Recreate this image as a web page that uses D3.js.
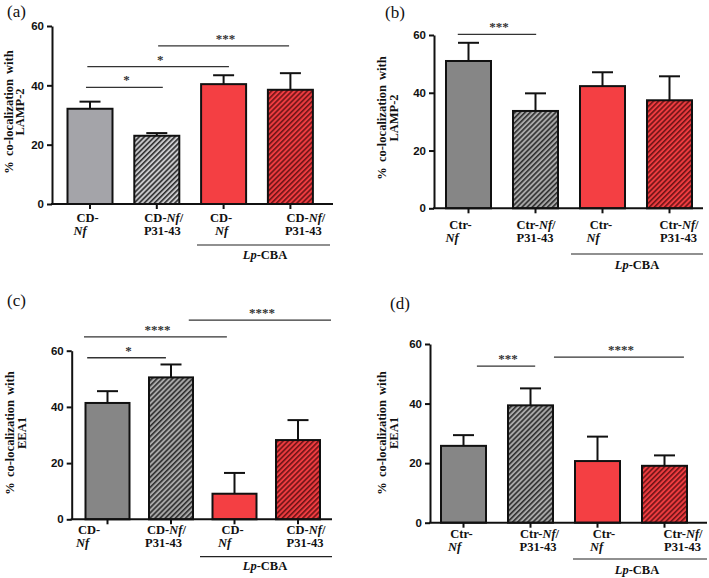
<!DOCTYPE html>
<html><head><meta charset="utf-8">
<script src="https://cdn.jsdelivr.net/npm/d3@7"></script>
<style>body{margin:0;background:#fff}</style>
</head><body>
<svg id="chart" width="709" height="578"></svg>
<script>
// ---------------- DATA ----------------
const panelTags = ["(a)", "(b)", "(c)", "(d)"];
const categoriesCD = ["CD-\n_Nf_", "CD-_Nf_/\nP31-43", "CD-\n_Nf_", "CD-_Nf_/\nP31-43"];
const categoriesCtr = ["Ctr-\n_Nf_", "Ctr-_Nf_/\nP31-43", "Ctr-\n_Nf_", "Ctr-_Nf_/\nP31-43"];
const withP31 = [false, true, false, true];
const withLpCBA = [false, false, true, true];
const groupLabel = "_Lp_-CBA";
const yTicks = [0, 20, 40, 60];
const yTitleLAMP = ["% co-localization with", "LAMP-2"];
const yTitleEEA = ["% co-localization with", "EEA1"];

const valuesA = [32.1, 23.0, 40.4, 38.5];
const errorsA = [2.4, 0.9, 3.0, 5.6];
const valuesB = [51.0, 33.7, 42.3, 37.4];
const errorsB = [6.3, 6.1, 4.8, 8.3];
const valuesC = [41.4, 50.5, 9.1, 28.2];
const errorsC = [4.2, 4.6, 7.4, 7.1];
const valuesD = [25.8, 39.4, 20.7, 19.1];
const errorsD = [3.6, 5.7, 8.2, 3.5];

// significance bars: from/to in category-index units, y in data units
const sigA = [{from: -0.06, to: 1.09, y: 39.3, label: "*"},
              {from: -0.04, to: 2.08, y: 46.3, label: "*"},
              {from: 1.02, to: 2.98, y: 53.3, label: "***"}];
const sigB = [{from: -0.16, to: 1.01, y: 60.2, label: "***"}];
const sigC = [{from: -0.32, to: 0.92, y: 57.5, label: "*"},
              {from: -0.37, to: 1.88, y: 64.9, label: "****"},
              {from: 1.28, to: 3.52, y: 70.9, label: "****"}];
const sigD = [{from: 0.2, to: 1.07, y: 52.6, label: "***"},
              {from: 1.35, to: 3.29, y: 55.6, label: "****"}];

// ---------------- LAYOUT ----------------
const panels = [
  {tag: panelTags[0], cats: categoriesCD, values: valuesA, errors: errorsA, sig: sigA, title: yTitleLAMP,
   grey: "#a4a4a9", hatchBg: "#c9c9cc",
   ax: 52, xEnd: 333, c0: 90, step: 66.8, barW: 45, yBot: 204, yTop: 26,
   lab: [17.5, 30.5], dx1: [-2.5, 7, -2.5, 15.5], dx2: [-10, 5.5, -2, 13],
   tagPos: [7, 17], tX: [13, 24], tCy: 112, gLine: [197, 330, 245], gText: [265, 259]},
  {tag: panelTags[1], cats: categoriesCtr, values: valuesB, errors: errorsB, sig: sigB, title: yTitleLAMP,
   grey: "#868686", hatchBg: "#a8a8a8",
   ax: 434, xEnd: 703, c0: 468.5, step: 67, barW: 45, yBot: 208.3, yTop: 35,
   lab: [21, 34], dx1: [-8, 0.5, -1.5, 9.5], dx2: [-16.5, -0.5, -9.5, 9],
   tagPos: [385, 18], tX: [386, 397.5], tCy: 118, gLine: [571, 703, 254], gText: [637, 269]},
  {tag: panelTags[2], cats: categoriesCD, values: valuesC, errors: errorsC, sig: sigC, title: yTitleEEA,
   grey: "#868686", hatchBg: "#a8a8a8",
   ax: 71.7, xEnd: 332, c0: 107.5, step: 63.5, barW: 44, yBot: 519.3, yTop: 350.7,
   lab: [15, 28], dx1: [-18.5, -4.5, -2, 8], dx2: [-25, -7.5, -10, 7],
   tagPos: [7, 306], tX: [14, 26], tCy: 433, gLine: [200, 332, 556.7], gText: [265, 570]},
  {tag: panelTags[3], cats: categoriesCtr, values: valuesD, errors: errorsD, sig: sigD, title: yTitleEEA,
   grey: "#868686", hatchBg: "#a8a8a8",
   ax: 430, xEnd: 707, c0: 463.5, step: 67, barW: 45, yBot: 522.7, yTop: 344,
   lab: [15, 28], dx1: [-2, 9, 6.5, 18.5], dx2: [-9, 7.5, -1, 18],
   tagPos: [390, 309], tX: [386, 397.5], tCy: 433, gLine: [573, 707, 559], gText: [637, 574]}
];

const RED = "#f43f43";
const svg = d3.select("#chart");
const defs = svg.append("defs");

function makeHatch(id, bg, line) {
  const p = defs.append("pattern").attr("id", id).attr("patternUnits", "userSpaceOnUse")
    .attr("width", 3.6).attr("height", 3.6).attr("patternTransform", "rotate(45)");
  p.append("rect").attr("width", 3.6).attr("height", 3.6).attr("fill", bg);
  p.append("rect").attr("width", 1.6).attr("height", 3.6).attr("fill", line);
}

const serif = "'Liberation Serif','Times New Roman',serif";
const sans = "'Liberation Sans',Arial,sans-serif";

function rich(textSel, str) {
  str.split("_").forEach((part, i) => {
    if (!part) return;
    textSel.append("tspan").attr("font-style", i % 2 ? "italic" : "normal").text(part);
  });
}

panels.forEach((P, pi) => {
  const g = svg.append("g");
  const n = P.values.length;
  const pad = 1 - P.barW / P.step;
  const x = d3.scaleBand().domain(d3.range(n))
    .range([P.c0 - P.step / 2, P.c0 - P.step / 2 + n * P.step])
    .paddingInner(pad).paddingOuter(pad / 2);
  const y = d3.scaleLinear().domain([0, 60]).range([P.yBot, P.yTop]);
  const cx = i => x(i) + x.bandwidth() / 2;
  const fx = f => P.c0 + f * P.step;

  makeHatch("hg" + pi, P.hatchBg, "#2e2e2e");
  makeHatch("hr" + pi, "#ee3c40", "#6e1416");

  // bars
  g.selectAll("rect.bar").data(P.values).join("rect").attr("class", "bar")
    .attr("x", (d, i) => x(i)).attr("width", x.bandwidth())
    .attr("y", d => y(d)).attr("height", d => y(0) - y(d))
    .attr("fill", (d, i) => withP31[i] ? (withLpCBA[i] ? `url(#hr${pi})` : `url(#hg${pi})`) : (withLpCBA[i] ? RED : P.grey))
    .attr("stroke", "#111").attr("stroke-width", 2);

  // error bars
  const eb = g.selectAll("g.err").data(P.values).join("g").attr("class", "err");
  eb.append("line").attr("x1", (d, i) => cx(i)).attr("x2", (d, i) => cx(i))
    .attr("y1", d => y(d)).attr("y2", (d, i) => y(d + P.errors[i]))
    .attr("stroke", "#111").attr("stroke-width", 2);
  eb.append("line").attr("x1", (d, i) => cx(i) - 10.5).attr("x2", (d, i) => cx(i) + 10.5)
    .attr("y1", (d, i) => y(d + P.errors[i])).attr("y2", (d, i) => y(d + P.errors[i]))
    .attr("stroke", "#111").attr("stroke-width", 2);

  // y axis
  const yAx = g.append("g").attr("transform", `translate(${P.ax},0)`)
    .call(d3.axisLeft(y).tickValues(yTicks).tickSize(5).tickSizeOuter(0).tickPadding(3));
  yAx.select(".domain").attr("stroke", "#111").attr("stroke-width", 2);
  yAx.selectAll(".tick line").attr("stroke", "#111").attr("stroke-width", 2);
  yAx.selectAll(".tick text").attr("font-family", sans).attr("font-weight", "bold")
    .attr("font-size", 11.5).attr("fill", "#111");

  // x axis
  g.append("line").attr("x1", P.ax - 1).attr("x2", P.xEnd).attr("y1", y(0)).attr("y2", y(0))
    .attr("stroke", "#111").attr("stroke-width", 2);
  g.selectAll("line.xt").data(P.values).join("line").attr("class", "xt")
    .attr("x1", (d, i) => cx(i)).attr("x2", (d, i) => cx(i))
    .attr("y1", y(0)).attr("y2", y(0) + 5).attr("stroke", "#111").attr("stroke-width", 2);

  // category labels
  P.cats.forEach((c, i) => {
    c.split("\n").forEach((line, li) => {
      const t = g.append("text").attr("x", cx(i) + (li ? P.dx2[i] : P.dx1[i]))
        .attr("y", y(0) + P.lab[li]).attr("text-anchor", "middle")
        .attr("font-family", serif).attr("font-weight", "bold").attr("font-size", 12.5).attr("fill", "#111");
      rich(t, line);
    });
  });

  // group line & label
  g.append("line").attr("x1", P.gLine[0]).attr("x2", P.gLine[1]).attr("y1", P.gLine[2]).attr("y2", P.gLine[2])
    .attr("stroke", "#222").attr("stroke-width", 1.2);
  const gt = g.append("text").attr("x", P.gText[0]).attr("y", P.gText[1]).attr("text-anchor", "middle")
    .attr("font-family", serif).attr("font-weight", "bold").attr("font-size", 12.5).attr("fill", "#111");
  rich(gt, groupLabel);

  // significance
  P.sig.forEach(s => {
    g.append("line").attr("x1", fx(s.from)).attr("x2", fx(s.to)).attr("y1", y(s.y)).attr("y2", y(s.y))
      .attr("stroke", "#333").attr("stroke-width", 1.3);
    g.append("text").attr("x", (fx(s.from) + fx(s.to)) / 2 + 2).attr("y", y(s.y) - 3)
      .attr("text-anchor", "middle").attr("font-family", serif).attr("font-weight", "bold")
      .attr("font-size", 13).attr("fill", "#333").text(s.label);
  });

  // y title
  P.title.forEach((line, li) => {
    g.append("text").attr("transform", `translate(${P.tX[li]},${P.tCy}) rotate(-90)`)
      .attr("text-anchor", "middle").attr("font-family", serif).attr("font-weight", "bold")
      .attr("font-size", 12.5).attr("fill", "#111").attr("word-spacing", 2).text(line);
  });

  // panel tag
  g.append("text").attr("x", P.tagPos[0]).attr("y", P.tagPos[1]).attr("font-family", serif)
    .attr("font-size", 17).attr("fill", "#111").text(P.tag);
});
</script>
</body></html>
